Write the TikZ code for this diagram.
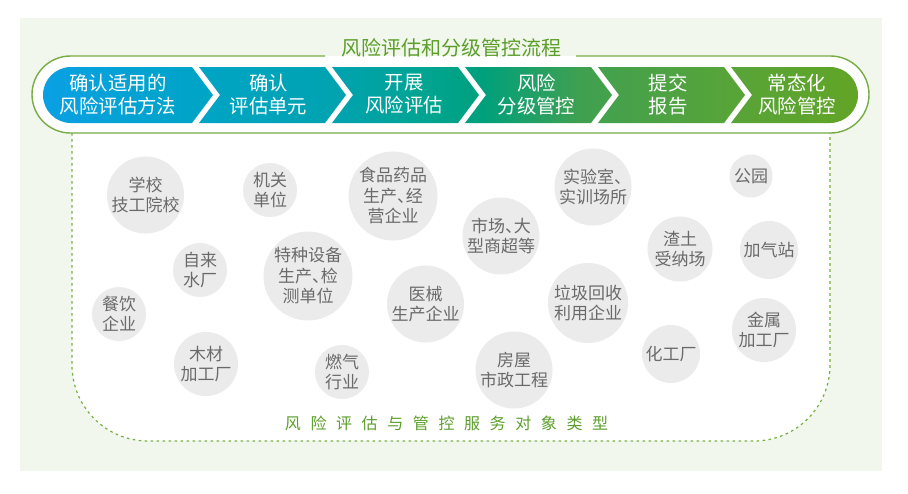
\documentclass[tikz,border=0pt]{standalone}
\usepackage{fontspec}
\setmainfont{Noto Sans CJK SC}
\newcommand{\halfdun}{\makebox[0.52em][l]{、}}
\definecolor{bgc}{HTML}{F1F7EC}
\definecolor{lgreen}{HTML}{78AC44}
\definecolor{tgreen}{HTML}{5C9E2A}
\definecolor{dgreen}{HTML}{74B040}
\definecolor{cgray}{HTML}{EBEBEB}
\definecolor{tgray}{HTML}{6A6A6A}
\definecolor{s1}{HTML}{0AA0E4}
\definecolor{s2}{HTML}{00A4C6}
\definecolor{s3}{HTML}{00A3AE}
\definecolor{s4}{HTML}{00A48E}
\definecolor{s5}{HTML}{00A07C}
\definecolor{s6}{HTML}{40A050}
\definecolor{s7}{HTML}{56A43A}
\definecolor{s8}{HTML}{62A426}
\pgfdeclarehorizontalshading{chevshade}{100bp}{color(0bp)=(s1); color(25bp)=(s1); color(34.6bp)=(s2); color(43.2bp)=(s3); color(49bp)=(s4); color(52bp)=(s5); color(58bp)=(s6); color(66.5bp)=(s7); color(75bp)=(s8); color(100bp)=(s8)}
\tikzset{
  circ/.style={circle, fill=cgray, inner sep=0pt, text=tgray, align=center, font=\fontsize{17}{20.5}\selectfont},
  chevtext/.style={text=white, align=center, font=\fontsize{19.4}{23}\selectfont},
  dashline/.style={draw=dgreen, line width=1.2pt, dash pattern=on 2.6pt off 3.4pt},
  pillline/.style={draw=lgreen, line width=1.4pt}
}
\begin{document}
\begin{tikzpicture}[x=1pt,y=-1pt]
\useasboundingbox (0,0) rectangle (908,493);
\fill[bgc] (20,18) rectangle (882,471);
% white region
\fill[white] (72,110) -- (72,365) arc[start angle=180, end angle=90, radius=76] -- (754,441) arc[start angle=90, end angle=0, radius=76] -- (830,110) -- cycle;
\draw[dashline] (72,133) -- (72,365) arc[start angle=180, end angle=90, radius=76] -- (754,441) arc[start angle=90, end angle=0, radius=76] -- (830,133);
% pill
\fill[white] (70.5,56) -- (830.5,56) arc[start angle=270, end angle=450, radius=38.5] -- (70.5,133) arc[start angle=90, end angle=270, radius=38.5] -- cycle;
\draw[pillline] (325,56) -- (70.5,56) arc[start angle=270, end angle=90, radius=38.5] -- (830.5,133) arc[start angle=90, end angle=-90, radius=38.5] -- (576,56);
\node[text=tgreen, font=\fontsize{20}{24}\selectfont] (title) at (451,48) {风险评估和分级管控流程};
% chevrons
\shade[shading=chevshade]
  (192,67) -- (213,95) -- (192,123) -- (71,123) arc[start angle=90, end angle=270, radius=28] -- cycle
  (199,67) -- (325,67) -- (346,95) -- (325,123) -- (199,123) -- (220,95) -- cycle
  (332,67) -- (458,67) -- (479,95) -- (458,123) -- (332,123) -- (353,95) -- cycle
  (465,67) -- (591,67) -- (612,95) -- (591,123) -- (465,123) -- (486,95) -- cycle
  (598,67) -- (724,67) -- (745,95) -- (724,123) -- (598,123) -- (619,95) -- cycle
  (731,67) -- (830,67) arc[start angle=270, end angle=450, radius=28] -- (731,123) -- (752,95) -- cycle;
\node[chevtext] (k1) at (118,94.5) {确认适用的\\风险评估方法};
\node[chevtext] (k2) at (268.5,94.5) {确认\\评估单元};
\node[chevtext] (k3) at (404,94.5) {开展\\风险评估};
\node[chevtext] (k4) at (536.5,94.5) {风险\\分级管控};
\node[chevtext] (k5) at (668,94.5) {提交\\报告};
\node[chevtext] (k6) at (797,94.5) {常态化\\风险管控};
% circles
\node[circ, minimum size=75pt] (c1) at (145.5,195) {学校\\技工院校};
\node[circ, minimum size=54pt] (c2) at (270,190) {机关\\单位};
\node[circ, minimum size=89pt] (c3) at (393,196) {食品药品\\生产\halfdun 经\\营企业};
\node[circ, minimum size=54pt] (c4) at (200,270) {自来\\水厂};
\node[circ, minimum size=89pt] (c5) at (308,276) {特种设备\\生产\halfdun 检\\测单位};
\node[circ, minimum size=75pt] (c6) at (425.5,304) {医械\\生产企业};
\node[circ, minimum size=54pt] (c7) at (119,314) {餐饮\\企业};
\node[circ, minimum size=64pt] (c8) at (206,364) {木材\\加工厂};
\node[circ, minimum size=54pt] (c9) at (342,372) {燃气\\行业};
\node[circ, minimum size=76pt] (c10) at (593,187) {实验室\halfdun\\实训场所};
\node[circ, minimum size=43pt] (c11) at (751,176) {公园};
\node[circ, minimum size=76pt] (c12) at (501,236) {市场\halfdun 大\\型商超等};
\node[circ, minimum size=65pt] (c13) at (680,249) {渣土\\受纳场};
\node[circ, minimum size=58pt] (c14) at (769,250) {加气站};
\node[circ, minimum size=80pt] (c15) at (588,303) {垃圾回收\\利用企业};
\node[circ, minimum size=76pt] (c16) at (514,370) {房屋\\市政工程};
\node[circ, minimum size=58pt] (c17) at (671,354) {化工厂};
\node[circ, minimum size=64pt] (c18) at (764,330) {金属\\加工厂};
\node[text=tgreen, font=\fontsize{16}{19}\selectfont] (label) at (446.5,423) {风\hspace{9.6pt}险\hspace{9.6pt}评\hspace{9.6pt}估\hspace{9.6pt}与\hspace{9.6pt}管\hspace{9.6pt}控\hspace{9.6pt}服\hspace{9.6pt}务\hspace{9.6pt}对\hspace{9.6pt}象\hspace{9.6pt}类\hspace{9.6pt}型};
\end{tikzpicture}
\end{document}
